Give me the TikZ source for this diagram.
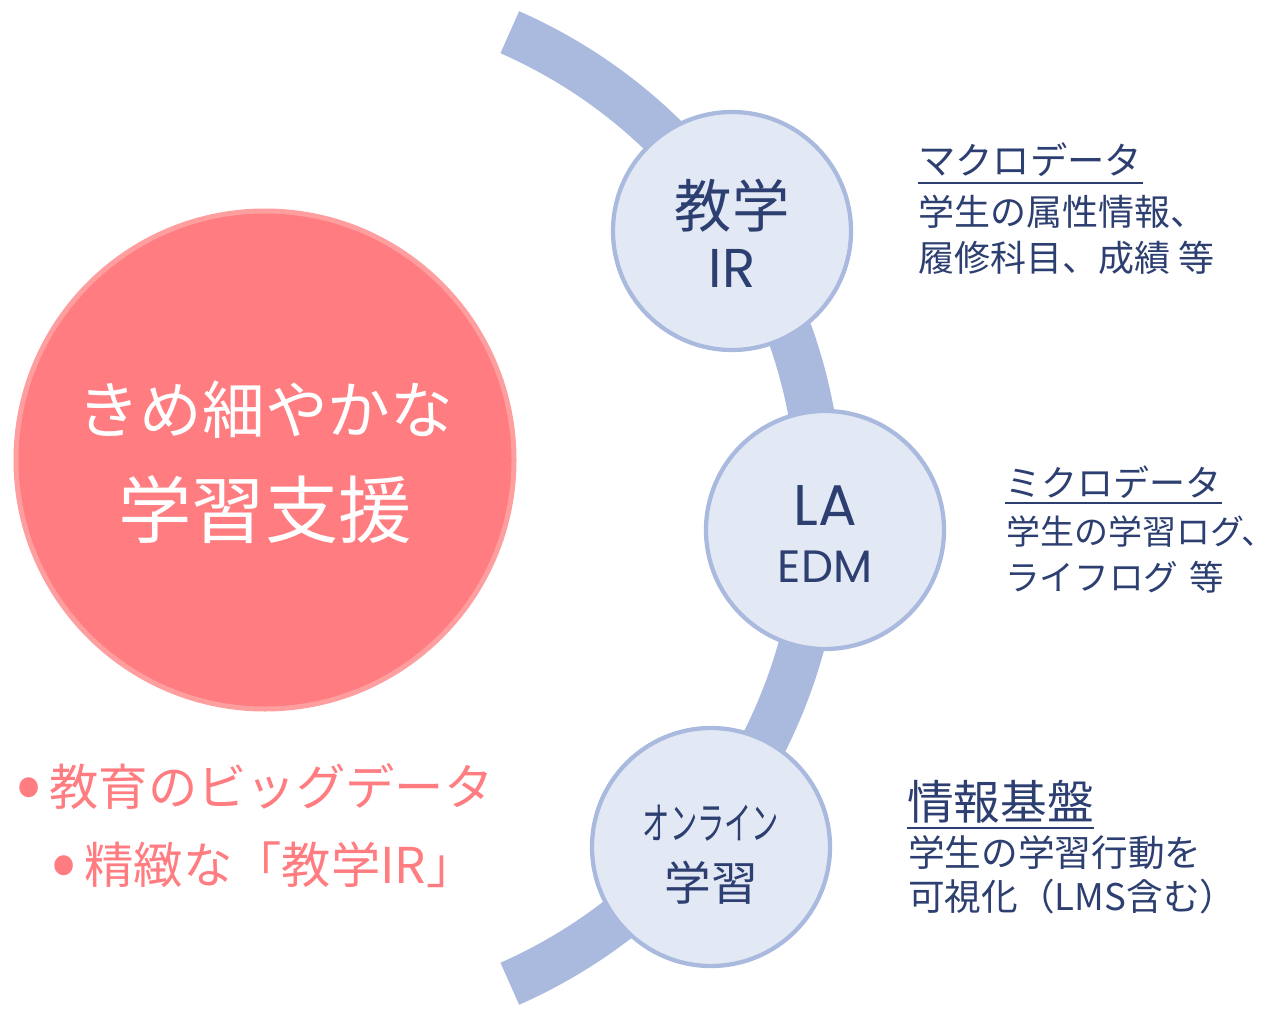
\documentclass[tikz,border=0pt]{standalone}
\usepackage{fontspec}
\setmainfont{Noto Sans CJK JP}
\newfontfamily\latinwide{Poppins}
\definecolor{bandc}{HTML}{AAB9DE}
\definecolor{bubfill}{HTML}{E3E8F5}
\definecolor{navy}{HTML}{2C3F70}
\definecolor{redfill}{HTML}{FF7C80}
\definecolor{redline}{HTML}{FF9E9E}
\definecolor{salmon}{HTML}{FF7C80}
\newcommand{\bigbullet}{\raisebox{-3pt}{\scalebox{1.5}{•}}}
\tikzset{
  band/.style={draw=bandc, line width=34.5pt},
  bub/.style={circle, draw=bandc, fill=bubfill, line width=3.2pt, minimum size=178.5pt, inner sep=0pt},
  bigc/.style={circle, draw=redline, fill=redfill, line width=3.75pt, minimum size=373.5pt, inner sep=0pt},
  ntext/.style={text=navy, inner sep=0pt},
  rtext/.style={text=navy, inner sep=0pt, anchor=west},
  wtext/.style={text=white, inner sep=0pt},
  stext/.style={text=salmon, inner sep=0pt, anchor=west, font=\fontsize{37}{41}\selectfont},
  uline/.style={draw=navy, line width=1.6pt},
}
\begin{document}
\begin{tikzpicture}[x=0.75pt,y=-0.75pt]
\useasboundingbox (0,0) rectangle (1280,1009);
% arc band
\draw[band] (509.8,32.2) arc[start angle=66.2, end angle=-66.2, radius=390pt];
% big red circle
\node[bigc] (big) at (265,460) {};
\node[wtext, font=\fontsize{47}{51}\selectfont] (big1) at (265,410) {きめ細やかな};
\node[wtext, font=\fontsize{55}{59}\selectfont] (big2) at (265,510) {学習支援};
% bubbles
\node[bub] (ir) at (732,231) {};
\node[ntext, font=\fontsize{43}{47}\selectfont] (ir1) at (732,206) {教学};
\node[ntext, font=\fontsize{41}{45}\latinwide] (ir2) at (732,268) {IR};
\node[bub] (la) at (825,530) {};
\node[ntext, font=\fontsize{43}{47}\latinwide] (la1) at (825,506) {LA};
\node[ntext, font=\fontsize{34}{38}\latinwide] (la2) at (825,567) {EDM};
\node[bub] (on) at (711,847) {};
\node[ntext, font=\fontsize{33}{37}\selectfont] (on1) at (711,823) {\scalebox{0.62}[1]{オンライン}};
\node[ntext, font=\fontsize{35}{39}\selectfont] (on2) at (711,883) {学習};
% right texts: macro
\node[rtext, font=\fontsize{28}{32}\selectfont] (m0) at (918,160) {マクロデータ};
\draw[uline] ([yshift=-4.5pt]m0.south west) -- ([yshift=-4.5pt]m0.south east);
\node[rtext, font=\fontsize{27}{31}\selectfont] (m1) at (918,212) {学生の属性情報、};
\node[rtext, font=\fontsize{27}{31}\selectfont] (m2) at (918,258) {履修科目、成績\hspace{6pt}等};
% micro
\node[rtext, font=\fontsize{27}{31}\selectfont] (c0) at (1005,482) {ミクロデータ};
\draw[uline] ([yshift=-3.5pt]c0.south west) -- ([yshift=-3.5pt]c0.south east);
\node[rtext, font=\fontsize{25.5}{30}\selectfont] (c1) at (1006,532) {学生の学習ログ、};
\node[rtext, font=\fontsize{26}{30}\selectfont] (c2) at (1005,577) {ライフログ\hspace{8pt}等};
% infra
\node[rtext, font=\fontsize{35}{39}\selectfont] (f0) at (907,802) {情報基盤};
\draw[uline] ([yshift=-3pt]f0.south west) -- ([yshift=-3pt]f0.south east);
\node[rtext, font=\fontsize{27.5}{31}\selectfont] (f1) at (908,853) {学生の学習行動を};
\node[rtext, font=\fontsize{27.5}{31}\selectfont] (f2) at (908,897) {可視化（LMS含む）};
% bullets
\node[stext] (b1) at (16,787) {\bigbullet\hspace{6pt}教育のビッグデータ};
\node[stext] (b2) at (51,865) {\bigbullet\hspace{6pt}精緻な「教学IR」};
\end{tikzpicture}
\end{document}
